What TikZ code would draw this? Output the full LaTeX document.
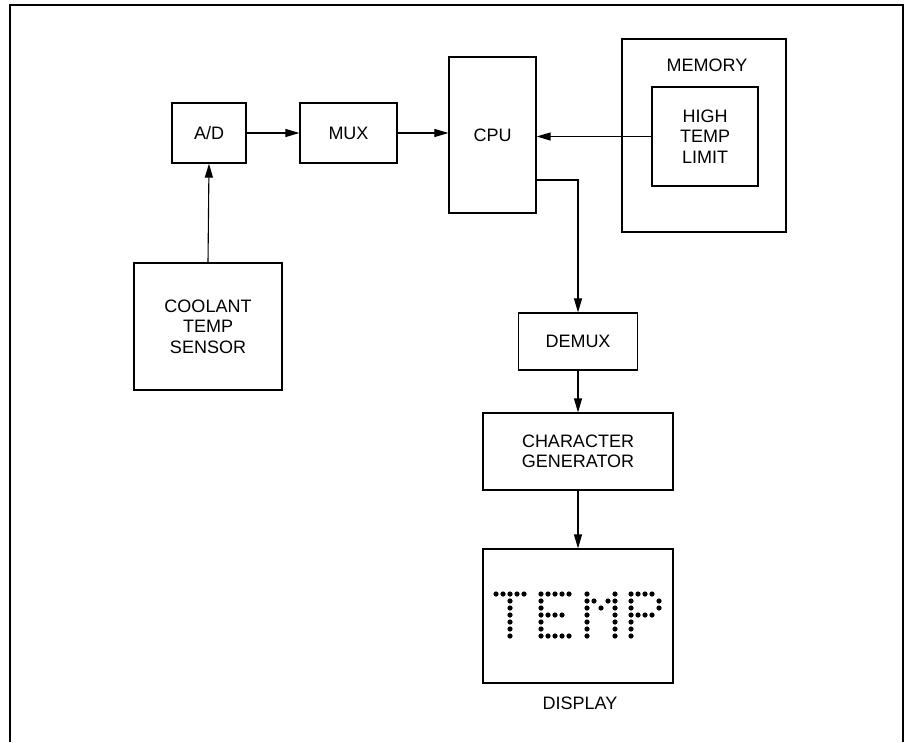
\documentclass[tikz,border=0pt]{standalone}
\usepackage{fontspec}
\setmainfont{Liberation Sans}
\usetikzlibrary{arrows.meta}
\tikzset{
  blk/.style={draw, line width=1.2pt, rectangle, inner sep=0pt, align=center,
              font=\fontsize{18}{20.5}\selectfont},
  lbl/.style={inner sep=0pt, align=center, font=\fontsize{18}{20.5}\selectfont},
  arr/.style={line width=1.1pt, -{Triangle[length=14pt,width=8pt]}},
  dotm/.style={fill=black},
}
\begin{document}
\begin{tikzpicture}[x=1pt,y=-1pt]
\useasboundingbox (0,0) rectangle (909,742);
% frame
\draw[line width=2pt] (10,742) -- (10,5) -- (903,5) -- (903,742);
% blocks
\node[blk, minimum width=74pt, minimum height=60pt] (ad) at (209,133) {A/D};
\node[blk, minimum width=97pt, minimum height=60pt] (mux) at (348.5,133) {MUX};
\node[blk, minimum width=87pt, minimum height=156pt] (cpu) at (492.5,135) {CPU};
\node[blk, minimum width=164pt, minimum height=193pt] (mem) at (704,135.5) {};
\node[lbl] (memtxt) at (707,65) {MEMORY};
\node[blk, minimum width=106pt, minimum height=99pt] (htl) at (705,136.5) {HIGH\\TEMP\\LIMIT};
\node[blk, minimum width=148pt, minimum height=127pt] (sensor) at (208,326.5) {COOLANT\\TEMP\\SENSOR};
\node[blk, minimum width=119pt, minimum height=57pt] (demux) at (578,341.5) {DEMUX};
\node[blk, minimum width=190pt, minimum height=77pt] (cg) at (578,451.5) {CHARACTER\\GENERATOR};
\node[blk, minimum width=190pt, minimum height=134pt] (disp) at (578,616) {};
\node[lbl] (disptxt) at (580,703) {DISPLAY};
% connectors
\draw[arr] (sensor.north) -- (ad.south);
\draw[arr] (ad.east) -- (mux.west);
\draw[arr] (mux.east) -- (cpu.west |- mux.east);
\draw[arr] (htl.west) -- (cpu.east |- htl.west);
\coordinate (cpuout) at (cpu.east |- 0,180);
\draw[arr] (cpuout) -| (demux.north);
\draw[arr] (demux.south) -- (cg.north);
\draw[arr] (cg.south) -- (disp.north);
% dot-matrix TEMP
\def\dotr{2.6}
% T at x=496
\foreach \c/\r in {0/0,1/0,2/0,3/0,4/0,2/1,2/2,2/3,2/4,2/5,2/6}
  \fill[dotm] (496+7*\c,594+7*\r) circle (\dotr);
% E at x=541
\foreach \c/\r in {0/0,0/1,0/2,0/3,0/4,0/5,0/6,1/0,2/0,3/0,4/0,1/3,2/3,3/3,1/6,2/6,3/6,4/6}
  \fill[dotm] (541+7*\c,594+7*\r) circle (\dotr);
% M at x=587
\foreach \c/\r in {0/0,0/1,0/2,0/3,0/4,0/5,0/6,4/0,4/1,4/2,4/3,4/4,4/5,4/6,1/1,2/2,3/1}
  \fill[dotm] (587+7*\c,594+7*\r) circle (\dotr);
% P at x=631
\foreach \c/\r in {0/0,0/1,0/2,0/3,0/4,0/5,0/6,1/0,2/0,3/0,4/1,4/2,1/3,2/3,3/3}
  \fill[dotm] (631+7*\c,594+7*\r) circle (\dotr);
\end{tikzpicture}
\end{document}
